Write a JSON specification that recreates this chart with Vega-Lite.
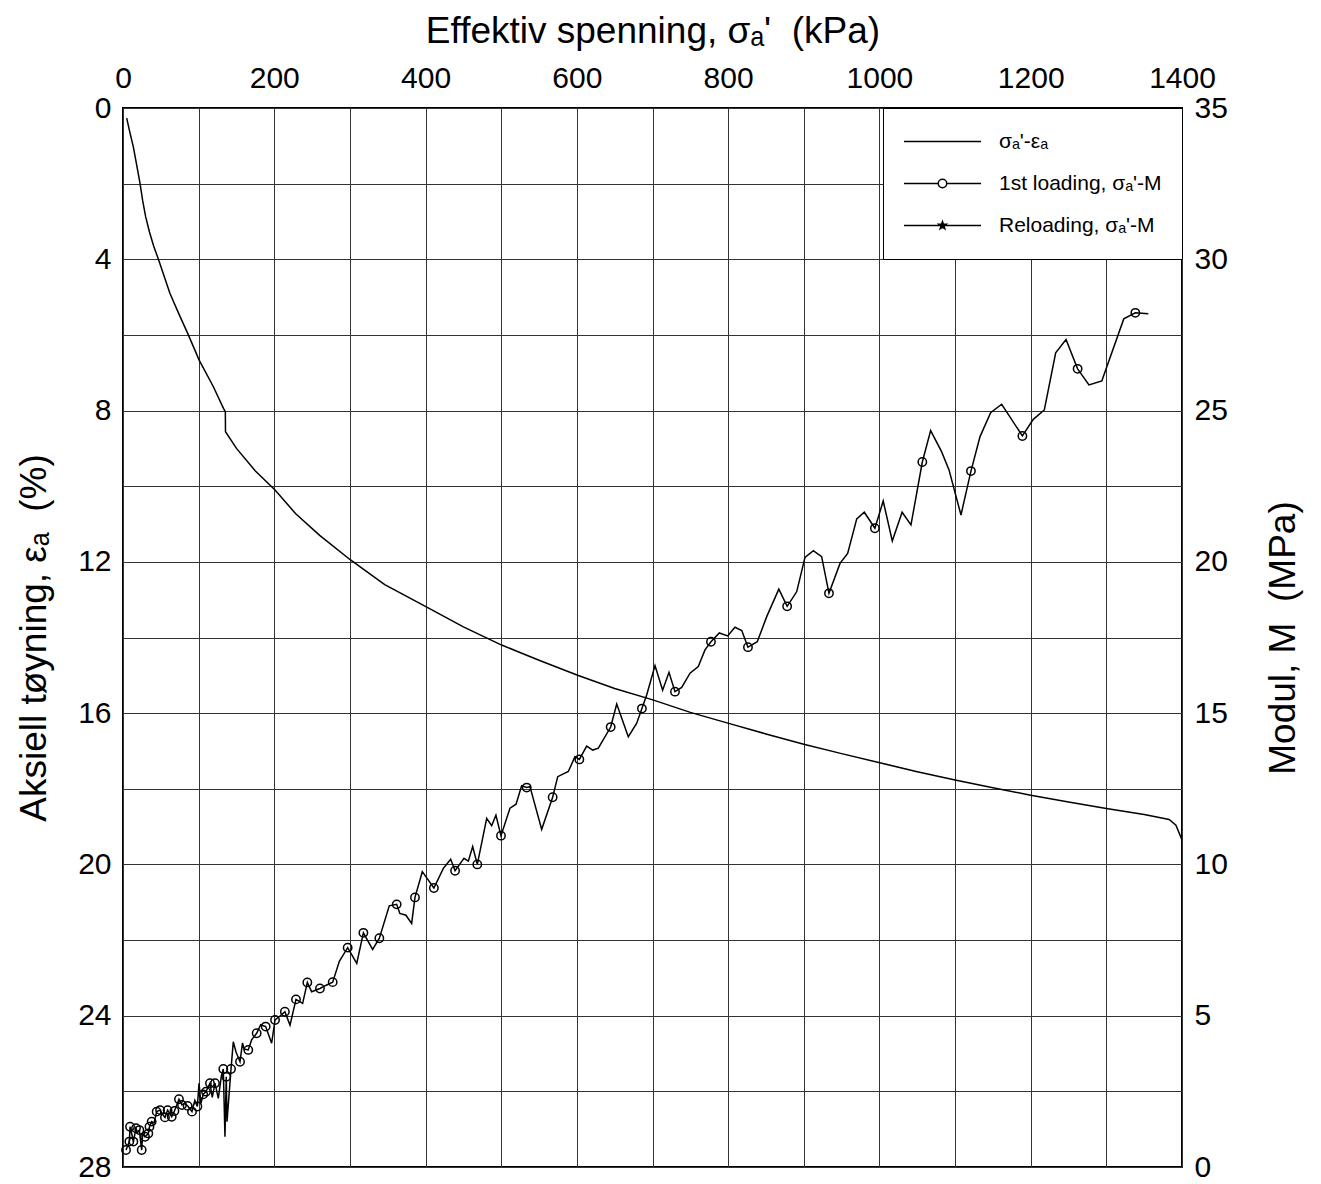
{
  "$schema": "https://vega.github.io/schema/vega-lite/v6.json",
  "width": 1059,
  "height": 1059,
  "autosize": {"type": "none"},
  "padding": {"left": 123, "top": 108, "right": 139, "bottom": 17},
  "background": "white",
  "config": {
    "font": "Liberation Sans",
    "view": {"stroke": "black", "strokeWidth": 2},
    "axis": {
      "labelFont": "Liberation Sans",
      "titleFont": "Liberation Sans",
      "labelFontSize": 30,
      "titleFontSize": 37,
      "titleFontWeight": "normal",
      "labelColor": "black",
      "titleColor": "black",
      "ticks": false,
      "domain": false,
      "labelFlush": false,
      "labelOverlap": false,
      "gridColor": "#333333",
      "gridOpacity": 1,
      "gridWidth": 1
    },
    "legend": {
      "labelFont": "Liberation Sans",
      "labelFontSize": 21,
      "labelColor": "black",
      "labelLimit": 400
    }
  },
  "datasets": {
    "strain": [
      {"sigma": 4.9, "strain": 0.27}, {"sigma": 9, "strain": 0.64}, {"sigma": 13.6, "strain": 1.02},
      {"sigma": 18, "strain": 1.5}, {"sigma": 22.5, "strain": 1.99}, {"sigma": 26, "strain": 2.45},
      {"sigma": 30, "strain": 2.88}, {"sigma": 35, "strain": 3.28}, {"sigma": 40.5, "strain": 3.65},
      {"sigma": 46.7, "strain": 3.99}, {"sigma": 62, "strain": 4.9},
      {"sigma": 74, "strain": 5.45}, {"sigma": 86.4, "strain": 6.0}, {"sigma": 100.5, "strain": 6.66},
      {"sigma": 119.5, "strain": 7.37}, {"sigma": 132.8, "strain": 7.94}, {"sigma": 135.3, "strain": 8.03},
      {"sigma": 135.5, "strain": 8.56}, {"sigma": 150, "strain": 9.0}, {"sigma": 175, "strain": 9.6},
      {"sigma": 201, "strain": 10.1}, {"sigma": 228, "strain": 10.72}, {"sigma": 260, "strain": 11.3},
      {"sigma": 300.8, "strain": 11.95}, {"sigma": 346, "strain": 12.6}, {"sigma": 401, "strain": 13.19},
      {"sigma": 450, "strain": 13.72}, {"sigma": 500.6, "strain": 14.2}, {"sigma": 550, "strain": 14.6},
      {"sigma": 601, "strain": 15.0}, {"sigma": 650, "strain": 15.35}, {"sigma": 700.4, "strain": 15.65},
      {"sigma": 750, "strain": 15.98}, {"sigma": 800.8, "strain": 16.27}, {"sigma": 850, "strain": 16.55},
      {"sigma": 900, "strain": 16.82}, {"sigma": 950, "strain": 17.07}, {"sigma": 1000.4, "strain": 17.31},
      {"sigma": 1050, "strain": 17.55}, {"sigma": 1100, "strain": 17.77}, {"sigma": 1150, "strain": 17.97},
      {"sigma": 1200, "strain": 18.17}, {"sigma": 1250, "strain": 18.35}, {"sigma": 1300, "strain": 18.52},
      {"sigma": 1350, "strain": 18.68}, {"sigma": 1383, "strain": 18.81}, {"sigma": 1392, "strain": 18.96},
      {"sigma": 1400, "strain": 19.35}
    ],
    "modulus": [
      {"sigma": 4, "M": 0.56}, {"sigma": 8.4, "M": 0.84}, {"sigma": 9.3, "M": 1.33}, {"sigma": 12, "M": 1.05},
      {"sigma": 13.7, "M": 0.84}, {"sigma": 17.2, "M": 1.28}, {"sigma": 19, "M": 1.15}, {"sigma": 21.6, "M": 1.22},
      {"sigma": 24.7, "M": 0.56}, {"sigma": 26, "M": 1.1}, {"sigma": 29.1, "M": 1.0}, {"sigma": 33.5, "M": 1.11},
      {"sigma": 35, "M": 1.33}, {"sigma": 37.9, "M": 1.5}, {"sigma": 41, "M": 1.45}, {"sigma": 44.5, "M": 1.83},
      {"sigma": 49, "M": 1.88}, {"sigma": 52, "M": 1.75}, {"sigma": 55.5, "M": 1.64}, {"sigma": 59, "M": 1.88},
      {"sigma": 64.4, "M": 1.66}, {"sigma": 68, "M": 1.85}, {"sigma": 74, "M": 2.24}, {"sigma": 78, "M": 2.05},
      {"sigma": 81, "M": 2.1}, {"sigma": 85.4, "M": 2.02}, {"sigma": 91.2, "M": 1.83}, {"sigma": 95, "M": 2.2},
      {"sigma": 98.3, "M": 2.0}, {"sigma": 100.5, "M": 2.77}, {"sigma": 103, "M": 2.1}, {"sigma": 106, "M": 2.4},
      {"sigma": 109.7, "M": 2.49}, {"sigma": 115, "M": 2.77}, {"sigma": 118, "M": 2.3}, {"sigma": 121.6, "M": 2.77},
      {"sigma": 126, "M": 2.27}, {"sigma": 130, "M": 3.0}, {"sigma": 132.6, "M": 3.24}, {"sigma": 134.8, "M": 1.0},
      {"sigma": 136.5, "M": 2.98}, {"sigma": 137.5, "M": 1.5}, {"sigma": 142.8, "M": 3.24}, {"sigma": 145.8, "M": 4.14},
      {"sigma": 149.4, "M": 3.8}, {"sigma": 154.7, "M": 3.48}, {"sigma": 158, "M": 4.1}, {"sigma": 160, "M": 3.9},
      {"sigma": 165.6, "M": 3.87}, {"sigma": 170, "M": 4.2}, {"sigma": 176.7, "M": 4.42}, {"sigma": 182, "M": 4.7},
      {"sigma": 188.6, "M": 4.64}, {"sigma": 196.5, "M": 4.09}, {"sigma": 201, "M": 4.86}, {"sigma": 208, "M": 5.0},
      {"sigma": 214, "M": 5.13}, {"sigma": 220.8, "M": 4.69}, {"sigma": 228.7, "M": 5.54}, {"sigma": 237.5, "M": 5.41},
      {"sigma": 243.7, "M": 6.1}, {"sigma": 249.4, "M": 5.79}, {"sigma": 260.4, "M": 5.9}, {"sigma": 268, "M": 6.0},
      {"sigma": 277.2, "M": 6.11}, {"sigma": 286, "M": 6.8}, {"sigma": 297, "M": 7.25}, {"sigma": 309, "M": 6.73},
      {"sigma": 317.8, "M": 7.74}, {"sigma": 330, "M": 7.19}, {"sigma": 338.9, "M": 7.56}, {"sigma": 352, "M": 8.63},
      {"sigma": 361.8, "M": 8.68}, {"sigma": 366, "M": 8.38}, {"sigma": 374, "M": 8.32}, {"sigma": 381.6, "M": 8.05},
      {"sigma": 386, "M": 8.91}, {"sigma": 395.7, "M": 9.76}, {"sigma": 411, "M": 9.22}, {"sigma": 423.5, "M": 9.87},
      {"sigma": 433.2, "M": 10.17}, {"sigma": 439, "M": 9.79}, {"sigma": 450.8, "M": 10.2}, {"sigma": 456.5, "M": 10.11},
      {"sigma": 462.3, "M": 10.59}, {"sigma": 468.4, "M": 10.0}, {"sigma": 480.8, "M": 11.52}, {"sigma": 487.4, "M": 11.28},
      {"sigma": 493, "M": 11.63}, {"sigma": 499.7, "M": 10.95}, {"sigma": 511.6, "M": 11.86}, {"sigma": 519.6, "M": 11.99},
      {"sigma": 527, "M": 12.6}, {"sigma": 533.7, "M": 12.54}, {"sigma": 538, "M": 12.57}, {"sigma": 553.5, "M": 11.16},
      {"sigma": 568, "M": 12.22}, {"sigma": 574.7, "M": 12.9}, {"sigma": 588.7, "M": 13.07}, {"sigma": 597.5, "M": 13.56},
      {"sigma": 603.3, "M": 13.47}, {"sigma": 613, "M": 13.91}, {"sigma": 621, "M": 13.78}, {"sigma": 628.4, "M": 13.84},
      {"sigma": 644.7, "M": 14.54}, {"sigma": 652.7, "M": 15.3}, {"sigma": 668, "M": 14.22}, {"sigma": 679, "M": 14.66},
      {"sigma": 686, "M": 15.15}, {"sigma": 692.3, "M": 15.6}, {"sigma": 703.3, "M": 16.57}, {"sigma": 713.4, "M": 15.76},
      {"sigma": 721.8, "M": 16.35}, {"sigma": 729.7, "M": 15.71}, {"sigma": 738.6, "M": 15.85}, {"sigma": 749.6, "M": 16.32},
      {"sigma": 760.5, "M": 16.54}, {"sigma": 769.4, "M": 17.09}, {"sigma": 777.3, "M": 17.36}, {"sigma": 788.3, "M": 17.65},
      {"sigma": 799.4, "M": 17.55}, {"sigma": 809, "M": 17.84}, {"sigma": 818, "M": 17.73}, {"sigma": 826.2, "M": 17.18},
      {"sigma": 838.5, "M": 17.36}, {"sigma": 851, "M": 18.19}, {"sigma": 867, "M": 19.1}, {"sigma": 878, "M": 18.53},
      {"sigma": 890.6, "M": 19.01}, {"sigma": 901.6, "M": 20.15}, {"sigma": 912.6, "M": 20.37}, {"sigma": 923.6, "M": 20.17},
      {"sigma": 933.3, "M": 18.96}, {"sigma": 947.9, "M": 19.95}, {"sigma": 958, "M": 20.28}, {"sigma": 970, "M": 21.42},
      {"sigma": 980, "M": 21.64}, {"sigma": 994, "M": 21.11}, {"sigma": 1005, "M": 22.01}, {"sigma": 1017, "M": 20.69},
      {"sigma": 1030, "M": 21.64}, {"sigma": 1041.7, "M": 21.22}, {"sigma": 1056.7, "M": 23.3}, {"sigma": 1067.7, "M": 24.34},
      {"sigma": 1082, "M": 23.65}, {"sigma": 1092, "M": 23.04}, {"sigma": 1107.8, "M": 21.55}, {"sigma": 1121, "M": 23.0},
      {"sigma": 1133, "M": 24.14}, {"sigma": 1147, "M": 24.93}, {"sigma": 1161.6, "M": 25.21}, {"sigma": 1189, "M": 24.16},
      {"sigma": 1203.4, "M": 24.71}, {"sigma": 1218, "M": 25.02}, {"sigma": 1233, "M": 26.91}, {"sigma": 1246.7, "M": 27.35},
      {"sigma": 1262, "M": 26.38}, {"sigma": 1277, "M": 25.85}, {"sigma": 1294, "M": 25.98}, {"sigma": 1323, "M": 28.03},
      {"sigma": 1338.3, "M": 28.23}, {"sigma": 1355.5, "M": 28.2}
    ],
    "readings": [
      {"sigma": 4, "M": 0.56}, {"sigma": 8.4, "M": 0.84}, {"sigma": 9.3, "M": 1.33}, {"sigma": 13.7, "M": 0.84},
      {"sigma": 17.2, "M": 1.28}, {"sigma": 21.6, "M": 1.22}, {"sigma": 24.7, "M": 0.56}, {"sigma": 29.1, "M": 1.0},
      {"sigma": 33.5, "M": 1.11}, {"sigma": 35, "M": 1.33}, {"sigma": 37.9, "M": 1.5}, {"sigma": 44.5, "M": 1.83},
      {"sigma": 49, "M": 1.88}, {"sigma": 55.5, "M": 1.64}, {"sigma": 59, "M": 1.88}, {"sigma": 64.4, "M": 1.66},
      {"sigma": 68, "M": 1.85}, {"sigma": 74, "M": 2.24}, {"sigma": 78, "M": 2.05}, {"sigma": 85.4, "M": 2.02},
      {"sigma": 91.2, "M": 1.83}, {"sigma": 98.3, "M": 2.0}, {"sigma": 106, "M": 2.4}, {"sigma": 109.7, "M": 2.49},
      {"sigma": 115, "M": 2.77}, {"sigma": 121.6, "M": 2.77}, {"sigma": 132.6, "M": 3.24}, {"sigma": 136.5, "M": 2.98},
      {"sigma": 142.8, "M": 3.24}, {"sigma": 154.7, "M": 3.48}, {"sigma": 165.6, "M": 3.87}, {"sigma": 176.7, "M": 4.42},
      {"sigma": 188.6, "M": 4.64}, {"sigma": 201, "M": 4.86}, {"sigma": 214, "M": 5.13}, {"sigma": 228.7, "M": 5.54},
      {"sigma": 243.7, "M": 6.1}, {"sigma": 260.4, "M": 5.9}, {"sigma": 277.2, "M": 6.11}, {"sigma": 297, "M": 7.25},
      {"sigma": 317.8, "M": 7.74}, {"sigma": 338.9, "M": 7.56}, {"sigma": 361.8, "M": 8.68}, {"sigma": 386, "M": 8.91},
      {"sigma": 411, "M": 9.22}, {"sigma": 439, "M": 9.79}, {"sigma": 468.4, "M": 10.0}, {"sigma": 499.7, "M": 10.95},
      {"sigma": 533.7, "M": 12.54}, {"sigma": 568, "M": 12.22}, {"sigma": 603.3, "M": 13.47}, {"sigma": 644.7, "M": 14.54},
      {"sigma": 686, "M": 15.15}, {"sigma": 729.7, "M": 15.71}, {"sigma": 777.3, "M": 17.36}, {"sigma": 826.2, "M": 17.18},
      {"sigma": 878, "M": 18.53}, {"sigma": 933.3, "M": 18.96}, {"sigma": 994, "M": 21.11}, {"sigma": 1056.7, "M": 23.3},
      {"sigma": 1121, "M": 23.0}, {"sigma": 1189, "M": 24.16}, {"sigma": 1262, "M": 26.38}, {"sigma": 1338.3, "M": 28.23}
    ]
  },
  "encoding": {
    "x": {
      "field": "sigma",
      "type": "quantitative",
      "scale": {"domain": [0, 1400], "nice": false, "zero": false},
      "axis": {
        "orient": "top",
        "values": [0, 100, 200, 300, 400, 500, 600, 700, 800, 900, 1000, 1100, 1200, 1300, 1400],
        "labelExpr": "datum.value % 200 === 0 ? format(datum.value, 'd') : ''",
        "title": "Effektiv spenning, σₐ'\u00a0\u00a0(kPa)",
        "grid": true,
        "labelPadding": 15,
        "titlePadding": 13
      }
    }
  },
  "layer": [
    {
      "data": {"name": "strain"},
      "mark": {"type": "line", "color": "black", "strokeWidth": 1.5, "interpolate": "linear"},
      "encoding": {
        "y": {
          "field": "strain",
          "type": "quantitative",
          "scale": {"domain": [0, 28], "reverse": true, "nice": false, "zero": false},
          "axis": {
            "orient": "left",
            "values": [0, 2, 4, 6, 8, 10, 12, 14, 16, 18, 20, 22, 24, 26, 28],
            "labelExpr": "datum.value % 4 === 0 ? datum.label : ''",
            "title": "Aksiell tøyning, εₐ\u00a0\u00a0(%)",
            "grid": true,
            "labelPadding": 12,
            "titlePadding": 24
          }
        }
      }
    },
    {
      "encoding": {
        "y": {
          "field": "M",
          "type": "quantitative",
          "scale": {"domain": [0, 35], "nice": false, "zero": false},
          "axis": {
            "orient": "right",
            "values": [0, 5, 10, 15, 20, 25, 30, 35],
            "title": "Modul, M\u00a0\u00a0(MPa)",
            "titleAngle": 270,
            "grid": false,
            "labelPadding": 12,
            "titlePadding": 75
          }
        }
      },
      "layer": [
        {
          "data": {"name": "modulus"},
          "mark": {"type": "line", "color": "black", "strokeWidth": 1.5, "interpolate": "linear"}
        },
        {
          "data": {"name": "readings"},
          "transform": [{"calculate": "'1st loading, σₐ\\'-M'", "as": "series"}],
          "mark": {"type": "point", "filled": false, "size": 70, "strokeWidth": 1.5, "opacity": 1},
          "encoding": {
            "color": {
              "field": "series",
              "type": "nominal",
              "scale": {
                "domain": ["σₐ'-εₐ", "1st loading, σₐ'-M", "Reloading, σₐ'-M"],
                "range": ["black", "black", "black"]
              },
              "legend": {
                "title": null,
                "orient": "top-right",
                "offset": 0,
                "padding": 20,
                "strokeColor": "black",
                "fillColor": "white",
                "symbolSize": 5929,
                "symbolStrokeWidth": 1.5,
                "symbolStrokeColor": "black",
                "clipHeight": 27,
                "rowPadding": 15,
                "labelOffset": 17,
                "labelLimit": 400,
                "encoding": {
                  "symbols": {
                    "shape": {"value": {"expr": "indexof(datum.value, 'Reloading') >= 0 ? 'M-1,0H1M0,-0.1L0.0235,-0.0324L0.0951,-0.0309L0.038,0.0124L0.0588,0.0809L0,0.04L-0.0588,0.0809L-0.038,0.0124L-0.0951,-0.0309L-0.0235,-0.0324Z' : indexof(datum.value, '1st') >= 0 ? 'M-1,0H-0.11M0.11,0H1M-0.11,0A0.11,0.11,0,1,1,0.11,0A0.11,0.11,0,1,1,-0.11,0' : 'M-1,0H1'"}},
                    "fill": {"value": {"expr": "indexof(datum.value, 'Reloading') >= 0 ? 'black' : 'transparent'"}},
                    "stroke": {"value": "black"}
                  }
                }
              }
            }
          }
        }
      ]
    }
  ],
  "resolve": {"scale": {"y": "independent"}}
}
